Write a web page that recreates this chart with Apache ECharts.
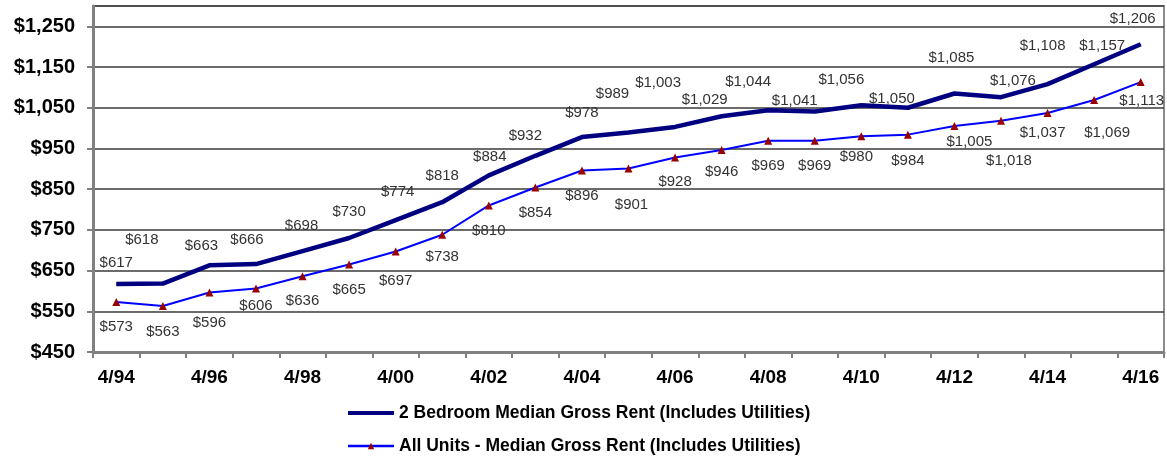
<!DOCTYPE html>
<html>
<head>
<meta charset="utf-8">
<script src="https://cdn.jsdelivr.net/npm/echarts@6/dist/echarts.min.js"></script>
<style>
  html, body { margin: 0; padding: 0; background: #fff; }
  #chart { width: 1167px; height: 468px; }
</style>
</head>
<body>
<div id="chart"></div>
<script>
// data
const years = ['4/94', '4/95', '4/96', '4/97', '4/98', '4/99', '4/00', '4/01', '4/02', '4/03', '4/04', '4/05',
  '4/06', '4/07', '4/08', '4/09', '4/10', '4/11', '4/12', '4/13', '4/14', '4/15', '4/16']
const twoBedroom = [617, 618, 663, 666, 698, 730, 774, 818, 884, 932, 978, 989,
  1003, 1029, 1044, 1041, 1056, 1050, 1085, 1076, 1108, 1157, 1206]
const allUnits = [573, 563, 596, 606, 636, 665, 697, 738, 810, 854, 896, 901,
  928, 946, 969, 969, 980, 984, 1005, 1018, 1037, 1069, 1113]
const seriesNames = ['2 Bedroom Median Gross Rent (Includes Utilities)', 'All Units - Median Gross Rent (Includes Utilities)']

// label nudges (style only) - labels were hand placed in the original
const shiftTwo = [[0, -21], [-21, -44], [-8, -19], [-9, -24], [-1, -25], [0, -26], [2, -28], [0, -26], [1, -18], [-10, -20],
  [0, -24], [-16, -39], [-17, -44], [-17, -16], [-20, -28], [-20, -11], [-20, -25], [-16, -9], [-3, -36], [12, -16],
  [-5, -38], [8, -18], [-8, -25]]
const shiftAll = [[0, 25], [0, 26], [0, 30], [0, 17], [0, 25], [0, 25], [0, 29], [0, 22], [0, 25], [0, 25],
  [0, 25], [3, 36], [0, 24], [0, 22], [0, 25], [0, 25], [-5, 21], [0, 26], [15, 16], [8, 40],
  [-5, 20], [13, 33], [1, 19]]

const font = 'Arial, "Liberation Sans", sans-serif'
const money = v => '$' + v.toLocaleString('en-US')

function withLabels (values, shifts) {
  return values.map((v, i) => ({
    value: v,
    label: { offset: shifts[i] }
  }))
}

const myChart = echarts.init(document.getElementById('chart'))
const option = {
  animation: false,
  grid: {
    left: 93,
    right: 3,
    top: 6,
    bottom: 116,
    show: true,
    borderColor: '#8c8c8c',
    borderWidth: 2,
    outerBoundsMode: 'none'
  },
  legend: {
    orient: 'vertical',
    left: 341,
    top: 399,
    itemWidth: 46,
    itemHeight: 8,
    itemGap: 15,
    textStyle: {
      fontFamily: font,
      fontSize: 17.5,
      fontWeight: 'bold',
      color: '#000'
    },
    data: [
      { name: seriesNames[0], itemStyle: { opacity: 0 }, lineStyle: { width: 4, color: '#000080' } },
      { name: seriesNames[1], lineStyle: { width: 2.5, color: '#0000ff' } }
    ]
  },
  xAxis: {
    type: 'category',
    boundaryGap: true,
    data: years,
    axisLine: { lineStyle: { color: '#808080', width: 3 } },
    axisTick: { show: true, interval: 0, length: 6, lineStyle: { color: '#808080', width: 2 } },
    axisLabel: {
      interval: 1,
      margin: 16,
      fontFamily: font,
      fontSize: 19,
      fontWeight: 'bold',
      color: '#000'
    },
    splitLine: { show: false }
  },
  yAxis: {
    type: 'value',
    min: 450,
    max: 1300,
    interval: 100,
    axisLine: { show: true, lineStyle: { color: '#808080', width: 3 } },
    axisTick: { show: true, length: 6, lineStyle: { color: '#808080', width: 2 } },
    axisLabel: {
      showMaxLabel: false,
      margin: 18,
      fontFamily: font,
      fontSize: 20,
      fontWeight: 'bold',
      color: '#000',
      formatter: v => (v > 1250 ? '' : money(v))
    },
    splitLine: { show: true, lineStyle: { color: '#3a3a3a', width: 1.5 } }
  },
  series: [
    {
      name: seriesNames[0],
      type: 'line',
      data: withLabels(twoBedroom, shiftTwo),
      symbol: 'circle',
      symbolSize: 1,
      itemStyle: { color: '#000080' },
      lineStyle: { color: '#000080', width: 4.5 },
      label: {
        show: true,
        position: 'inside',
        fontFamily: font,
        fontSize: 15,
        color: '#333',
        formatter: p => money(p.value)
      },
      z: 3
    },
    {
      name: seriesNames[1],
      type: 'line',
      data: withLabels(allUnits, shiftAll),
      symbol: 'triangle',
      symbolSize: 8,
      itemStyle: { color: '#990000' },
      lineStyle: { color: '#0000ff', width: 2 },
      label: {
        show: true,
        position: 'inside',
        fontFamily: font,
        fontSize: 15,
        color: '#333',
        formatter: p => money(p.value)
      },
      z: 4
    }
  ]
}
myChart.setOption(option)
</script>
</body>
</html>
